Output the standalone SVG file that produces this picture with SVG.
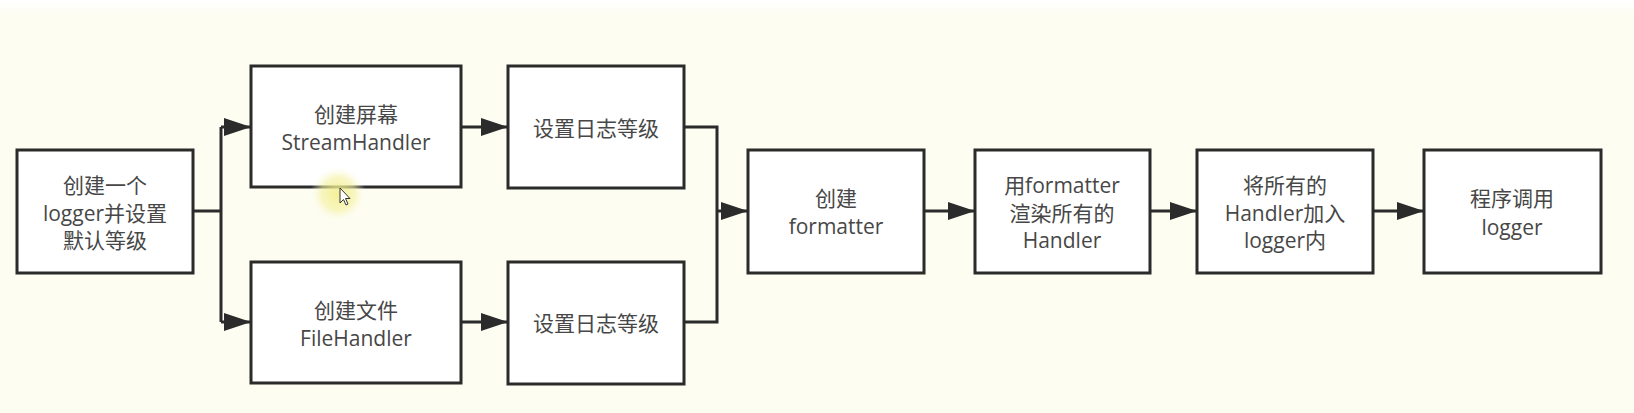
<svg xmlns="http://www.w3.org/2000/svg" width="1634" height="413" viewBox="0 0 1634 413">
  <defs>
    <style>
      .box { fill: #ffffff; stroke: #2b2b2b; stroke-width: 3; }
      .lbl { font-family: "Open Sans", "Noto Sans CJK SC", sans-serif; font-size: 21px; fill: #474747; text-anchor: middle; dominant-baseline: central; }
      .edge { fill: none; stroke: #2b2b2b; stroke-width: 3; }
    </style>
    <marker id="arrow" viewBox="0 0 27 18" refX="26" refY="9" markerWidth="27" markerHeight="18" markerUnits="userSpaceOnUse" orient="auto">
      <path d="M0,0 L27,9 L0,18 Z" fill="#2b2b2b"/>
    </marker>
    <linearGradient id="topfade" x1="0" y1="0" x2="0" y2="1">
      <stop offset="0" stop-color="#ffffff"/>
      <stop offset="1" stop-color="#fdfdf2"/>
    </linearGradient>
    <radialGradient id="glow">
      <stop offset="0" stop-color="#f3ee8a" stop-opacity="0.9"/>
      <stop offset="0.6" stop-color="#f5f1a0" stop-opacity="0.6"/>
      <stop offset="1" stop-color="#fdfdf2" stop-opacity="0"/>
    </radialGradient>
  </defs>

  <rect x="0" y="0" width="1634" height="413" fill="#fdfdf2"/>
  <rect x="0" y="0" width="1634" height="16" fill="url(#topfade)"/>

  <g id="connectors">
    <path class="edge" d="M193,211 H221"/>
    <path class="edge" d="M221,127 V322"/>
    <path class="edge" d="M221,127 H250" marker-end="url(#arrow)"/>
    <path class="edge" d="M221,322 H250" marker-end="url(#arrow)"/>
    <path class="edge" d="M461,127 H507" marker-end="url(#arrow)"/>
    <path class="edge" d="M461,322 H507" marker-end="url(#arrow)"/>
    <path class="edge" d="M684,127 H717 V322 H684"/>
    <path class="edge" d="M717,211 H747" marker-end="url(#arrow)"/>
    <path class="edge" d="M924,211 H974" marker-end="url(#arrow)"/>
    <path class="edge" d="M1150,211 H1196" marker-end="url(#arrow)"/>
    <path class="edge" d="M1373,211 H1423" marker-end="url(#arrow)"/>
  </g>

  <g id="n1">
    <rect class="box" x="17" y="150" width="176" height="123"/>
    <text class="lbl" x="105" y="185">创建一个</text>
    <text class="lbl" x="105" y="213">logger并设置</text>
    <text class="lbl" x="105" y="240">默认等级</text>
  </g>
  <g id="n2">
    <rect class="box" x="251" y="66" width="210" height="121"/>
    <text class="lbl" x="356" y="114">创建屏幕</text>
    <text class="lbl" x="356" y="142">StreamHandler</text>
  </g>
  <g id="n3">
    <rect class="box" x="251" y="262" width="210" height="121"/>
    <text class="lbl" x="356" y="310">创建文件</text>
    <text class="lbl" x="356" y="338">FileHandler</text>
  </g>
  <g id="n4">
    <rect class="box" x="508" y="66" width="176" height="122"/>
    <text class="lbl" x="596" y="128">设置日志等级</text>
  </g>
  <g id="n5">
    <rect class="box" x="508" y="262" width="176" height="122"/>
    <text class="lbl" x="596" y="323">设置日志等级</text>
  </g>
  <g id="n6">
    <rect class="box" x="748" y="150" width="176" height="123"/>
    <text class="lbl" x="836" y="198">创建</text>
    <text class="lbl" x="836" y="226">formatter</text>
  </g>
  <g id="n7">
    <rect class="box" x="975" y="150" width="175" height="123"/>
    <text class="lbl" x="1062" y="185">用formatter</text>
    <text class="lbl" x="1062" y="213">渲染所有的</text>
    <text class="lbl" x="1062" y="240">Handler</text>
  </g>
  <g id="n8">
    <rect class="box" x="1197" y="150" width="176" height="123"/>
    <text class="lbl" x="1285" y="185">将所有的</text>
    <text class="lbl" x="1285" y="213">Handler加入</text>
    <text class="lbl" x="1285" y="240">logger内</text>
  </g>
  <g id="n9">
    <rect class="box" x="1424" y="150" width="177" height="123"/>
    <text class="lbl" x="1512" y="198">程序调用</text>
    <text class="lbl" x="1512" y="227">logger</text>
  </g>

  <circle cx="338" cy="194" r="28" fill="url(#glow)"/>
  <path d="M340,188 V203 L343.5,199.5 L346,205 L348,204 L345.5,198.5 L350,198.5 Z" fill="#ffffff" stroke="#333333" stroke-width="1"/>
</svg>
